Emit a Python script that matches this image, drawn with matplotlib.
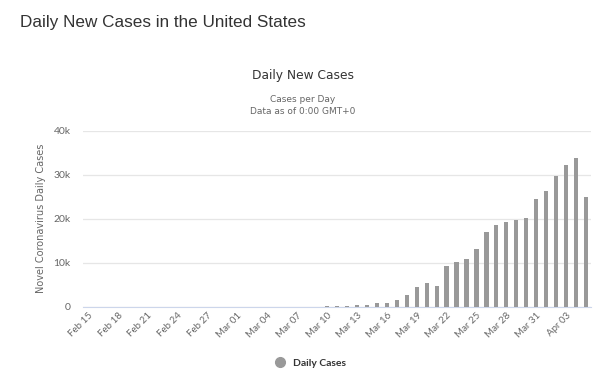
import matplotlib
matplotlib.use("Agg")
import matplotlib.pyplot as plt
import numpy as np
import pandas as pd
from matplotlib.lines import Line2D

# daily new cases, Feb 15 .. Apr 05 2020
dates = pd.date_range("2020-02-15", "2020-04-05", freq="D")
cases = [0, 0, 0, 0, 0, 0, 2, 0, 0, 0, 0, 1, 0, 1, 3,
         5, 8, 10, 12, 18, 20, 25, 30, 40, 100, 200, 250, 370, 400, 770,
         770, 1500, 2700, 4500, 5400, 4700, 9200, 10200, 10800, 13100, 17000,
         18500, 19200, 19800, 20100, 24400, 26300, 29700, 32100, 33900, 25000]
tick_every = 3
yticks = [0, 10000, 20000, 30000, 40000]
ytick_labels = ["0", "10k", "20k", "30k", "40k"]

BAR = "#999999"
GRID = "#e6e6e6"
TXT = "#666666"

fig = plt.figure(figsize=(6, 3.87), dpi=100)
fig.text(20 / 600, 1 - 23 / 387, "Daily New Cases in the United States",
         family="Liberation Sans", fontsize=12.3, color="#333333", va="center")
fig.text(303 / 600, 1 - 76 / 387, "Daily New Cases", family="DejaVu Sans",
         fontsize=8.8, color="#333333", ha="center", va="center")
fig.text(303 / 600, 1 - 99 / 387, "Cases per Day", family="DejaVu Sans",
         fontsize=6.5, color=TXT, ha="center", va="center")
fig.text(303 / 600, 1 - 112 / 387, "Data as of 0:00 GMT+0", family="DejaVu Sans",
         fontsize=6.5, color=TXT, ha="center", va="center")

ax = fig.add_axes([83 / 600, (387 - 306.7) / 387, 508 / 600, 176 / 387])
x = np.arange(len(cases))
ax.bar(x, cases, width=0.42, color=BAR, zorder=3)
ax.set_xlim(-0.5, len(cases) - 0.5)
ax.set_ylim(0, 40000)
ax.set_yticks(yticks)
ax.set_yticklabels(ytick_labels, family="Lato", fontsize=7.5, color=TXT)
ax.grid(axis="y", color=GRID, lw=0.9, zorder=0)
for s in ["top", "right", "left"]:
    ax.spines[s].set_visible(False)
ax.spines["bottom"].set_color("#ccd6eb")
ax.tick_params(axis="y", length=0, pad=9)
ticks = x[::tick_every]
ax.set_xticks(ticks)
ax.set_xticklabels([d.strftime("%b %d") for d in dates[::tick_every]],
                   rotation=45, ha="right", rotation_mode="anchor",
                   family="Lato", fontsize=7, color=TXT)
ax.tick_params(axis="x", length=0, pad=3)
ax.set_ylabel("Novel Coronavirus Daily Cases", family="DejaVu Sans",
              fontsize=7, color=TXT, labelpad=5)

handle = Line2D([], [], marker="o", ls="", color=BAR, markersize=7)
leg = fig.legend([handle], ["Daily Cases"], loc="center",
                 bbox_to_anchor=(308 / 600, 1 - 363 / 387), frameon=False,
                 handletextpad=0.2, prop={"family": "Lato", "weight": "bold", "size": 7.5})
for t in leg.get_texts():
    t.set_color("#333333")

fig.savefig("out.png", dpi=100)
